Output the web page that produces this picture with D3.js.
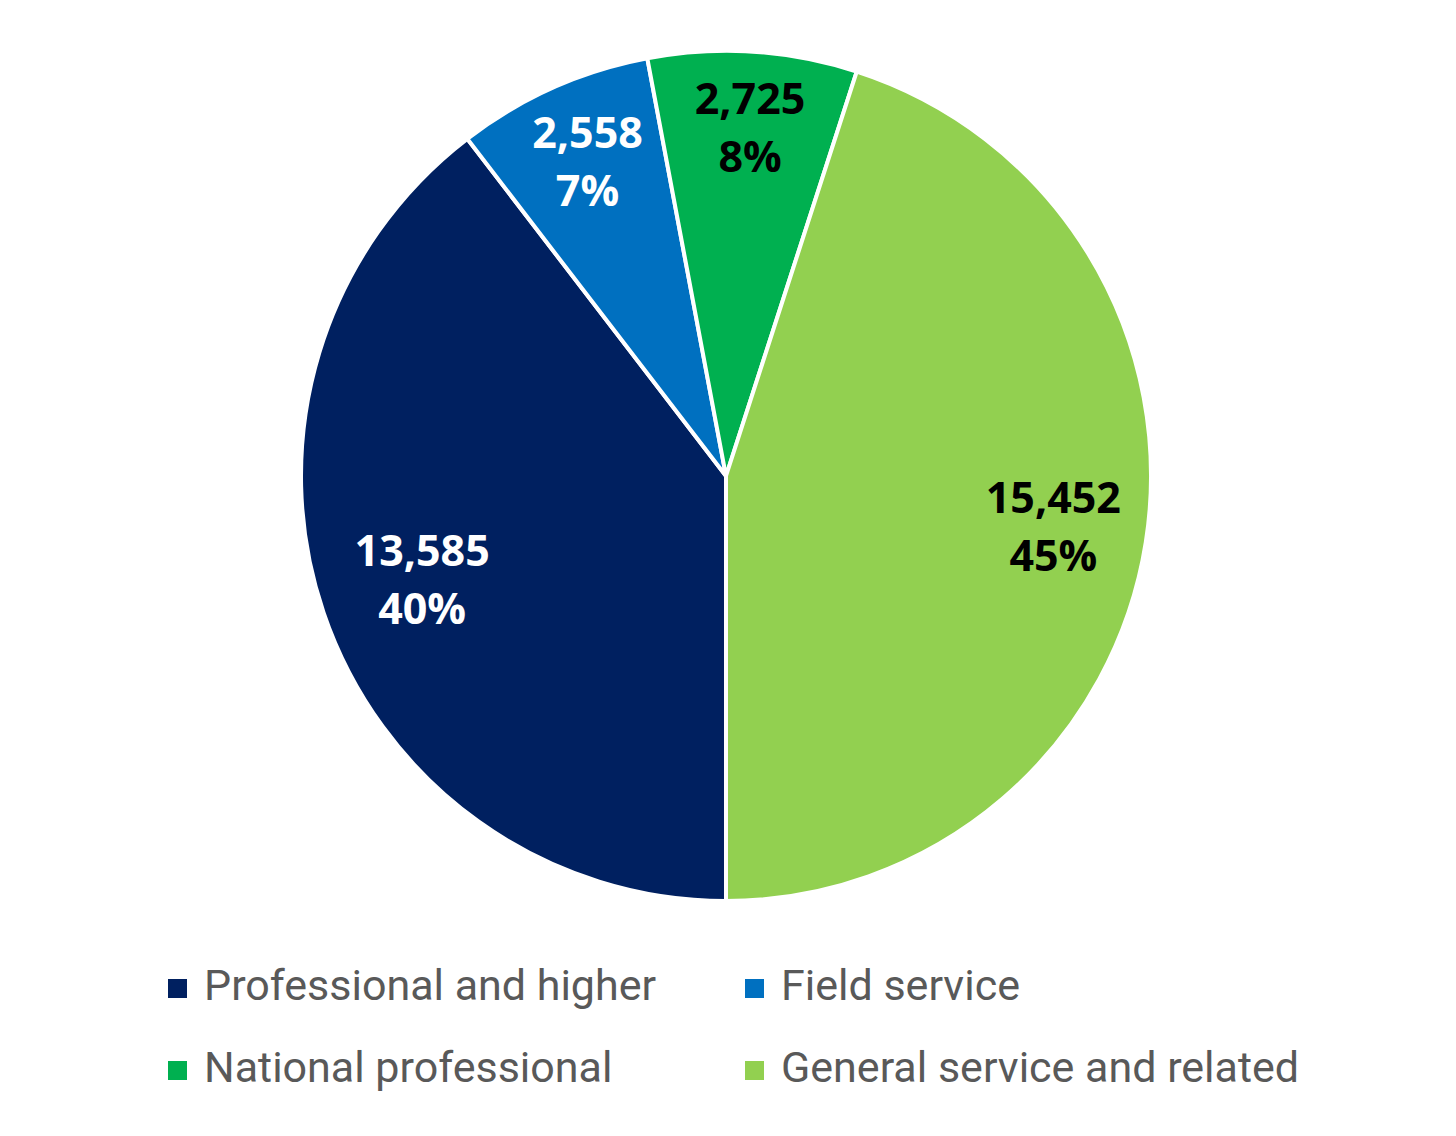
<!DOCTYPE html>
<html><head><meta charset="utf-8">
<script src="https://cdn.jsdelivr.net/npm/d3@7"></script>
<style>
html,body{margin:0;padding:0;background:#fff;}
svg{display:block;}
</style></head>
<body>
<svg id="chart" width="1456" height="1136"></svg>
<script>
const categories = ["Professional and higher","Field service","National professional","General service and related"];
const values = [13585, 2558, 2725, 15452];
const percentLabels = ["40%","7%","8%","45%"];
const colors = ["#002060","#0070C0","#00B050","#92D050"];
const labelColors = ["#ffffff","#ffffff","#000000","#000000"];
const labelRadiusFactor = [0.76, 0.81, 0.82, 0.775];

const svg = d3.select("#chart");
const cx = 726, cy = 476, R = 425;
const g = svg.append("g").attr("transform",`translate(${cx},${cy})`);

const pie = d3.pie().sort(null).value(d=>d).startAngle(Math.PI).endAngle(3*Math.PI);
const arcs = pie(values);
const arc = d3.arc().innerRadius(0).outerRadius(R);

g.selectAll("path").data(arcs).join("path")
  .attr("d",arc).attr("fill",(d,i)=>colors[i])
  .attr("stroke","#fff").attr("stroke-width",4).attr("stroke-linejoin","round");

const fmt = d3.format(",");
arcs.forEach((d,i)=>{
  const r = R*labelRadiusFactor[i];
  const la = d3.arc().innerRadius(r).outerRadius(r);
  const [x,y] = la.centroid(d);
  const t = g.append("text").attr("text-anchor","middle")
    .attr("font-family","'Open Sans', sans-serif").attr("font-weight",700)
    .attr("font-size",43).attr("fill",labelColors[i]);
  t.append("tspan").attr("x",x+2).attr("y",y-29).attr("dy","0.35em").text(fmt(values[i]));
  t.append("tspan").attr("x",x+2).attr("y",y+29).attr("dy","0.35em").text(percentLabels[i]);
});

// legend
const legendPos = [[168,1000],[745,1000],[168,1082],[745,1082]];
const lg = svg.append("g");
categories.forEach((c,i)=>{
  const [x,y] = legendPos[i];
  lg.append("rect").attr("x",x).attr("y",y-21).attr("width",19).attr("height",19).attr("fill",colors[i]);
  lg.append("text").attr("x",x+36).attr("y",y)
    .attr("font-family","'Roboto',sans-serif")
    .attr("font-size",43).attr("fill","#595959").text(c);
});
</script>
</body></html>
